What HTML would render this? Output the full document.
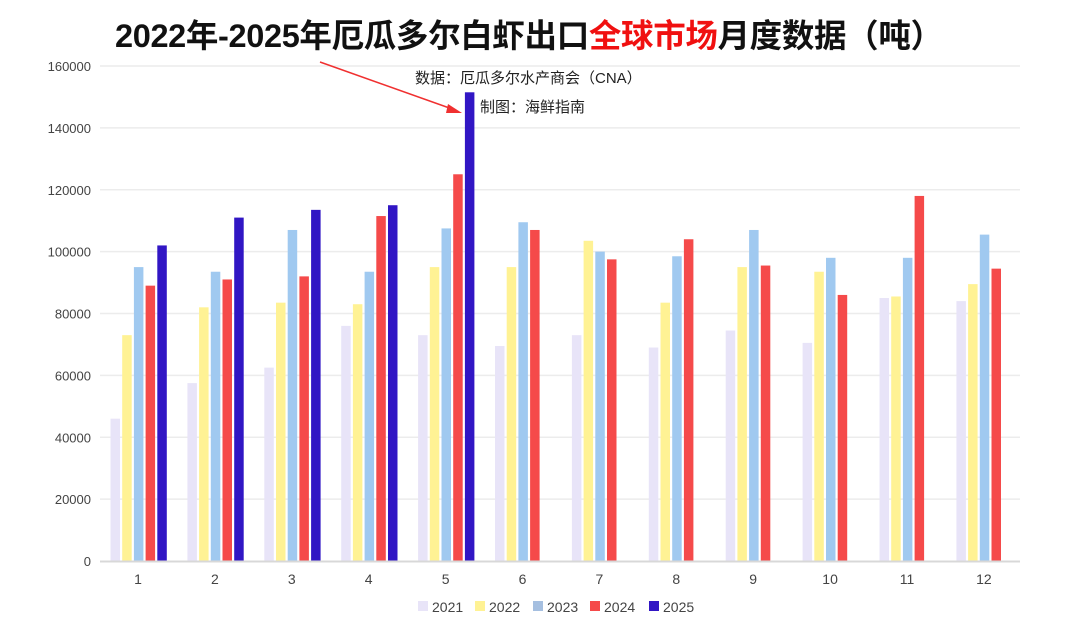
<!DOCTYPE html>
<html><head><meta charset="utf-8"><style>
html,body{margin:0;padding:0;background:#fff;}
svg{display:block;font-family:"Liberation Sans","Noto Sans CJK SC",sans-serif;}
</style></head><body>
<svg width="1080" height="629" viewBox="0 0 1080 629" xmlns="http://www.w3.org/2000/svg">
<rect width="1080" height="629" fill="#fff"/>
<text x="115" y="47" font-size="32.5" font-weight="bold" fill="#111" font-family="Liberation Sans,Noto Sans CJK SC,sans-serif" textLength="828">2022年-2025年厄瓜多尔白虾出口<tspan fill="#f01010">全球市场</tspan>月度数据（吨）</text>
<g id="grid" stroke="#ececec" stroke-width="1.5"></g>
<g id="ylab" font-size="13" fill="#444" text-anchor="end"></g>
<g id="bars"></g>
<line x1="100" y1="561.5" x2="1020" y2="561.5" stroke="#d8d8d8" stroke-width="2"/>
<g id="xlab" font-size="14" fill="#444" text-anchor="middle"></g>
<text x="415" y="83" font-size="15" fill="#222">数据：厄瓜多尔水产商会（CNA）</text>
<text x="480" y="112" font-size="15" fill="#222">制图：海鲜指南</text>
<line x1="320" y1="62" x2="455" y2="110" stroke="#f03030" stroke-width="1.5"/>
<polygon points="462,113 448,104 446,113" fill="#f03030"/>
<g font-size="14" fill="#444">
<rect x="418" y="601" width="10" height="10" fill="#e8e4f8"/><text x="432" y="612">2021</text>
<rect x="475" y="601" width="10" height="10" fill="#fff294"/><text x="489" y="612">2022</text>
<rect x="533" y="601" width="10" height="10" fill="#a5bfe0"/><text x="547" y="612">2023</text>
<rect x="590" y="601" width="10" height="10" fill="#f54a4a"/><text x="604" y="612">2024</text>
<rect x="649" y="601" width="10" height="10" fill="#3116c4"/><text x="663" y="612">2025</text>
</g>
<script>
var ns="http://www.w3.org/2000/svg";
function el(p,t,a,txt){var e=document.createElementNS(ns,t);for(var k in a)e.setAttribute(k,a[k]);if(txt!=null)e.textContent=txt;document.getElementById(p).appendChild(e);}
var y0=561,s=495/160000;
for(var v=20000;v<=160000;v+=20000){var y=y0-v*s;el("grid","line",{x1:100,x2:1020,y1:y,y2:y});}
for(var v=0;v<=160000;v+=20000){el("ylab","text",{x:91,y:y0-v*s+5},String(v));}
var d=[
[46000,57500,62500,76000,73000,69500,73000,69000,74500,70500,85000,84000],
[73000,82000,83500,83000,95000,95000,103500,83500,95000,93500,85500,89500],
[95000,93500,107000,93500,107500,109500,100000,98500,107000,98000,98000,105500],
[89000,91000,92000,111500,125000,107000,97500,104000,95500,86000,118000,94500],
[102000,111000,113500,115000,151500]];
var c=["#e8e4f8","#fff294","#a0c9f0","#f54a4a","#3116c4"];
for(var i=0;i<12;i++){var cx=138+i*76.9;
el("xlab","text",{x:cx,y:584},String(i+1));
for(var k=0;k<5;k++){if(d[k][i]==null)continue;var h=d[k][i]*s;
el("bars","rect",{x:cx-27.5+k*11.7,y:y0-h,width:9.5,height:h,fill:c[k]});}}
</script>
</svg>
</body></html>
